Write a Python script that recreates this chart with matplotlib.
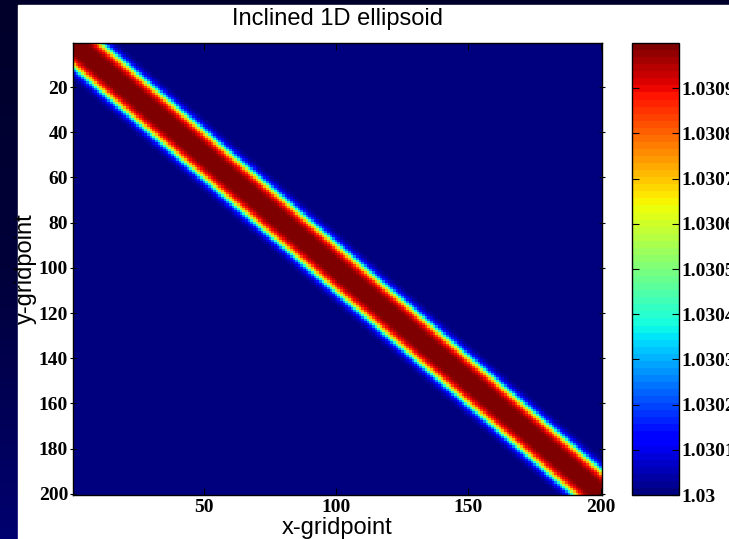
import matplotlib
matplotlib.use("Agg")
import matplotlib.pyplot as plt
import numpy as np

# grid and band parameters
nx, ny = 200, 200
base_value = 1.03
amplitude = 0.001
band_offset = 0.0        # centre line x - y = offset
band_halfwidth = 10.4    # |x - y| where the value is half way
band_edge = 3.0          # softness of the band edge

cbar_ticks = [1.03, 1.0301, 1.0302, 1.0303, 1.0304, 1.0305, 1.0306, 1.0307, 1.0308, 1.0309]
cbar_labels = ['1.03', '1.0301', '1.0302', '1.0303', '1.0304', '1.0305',
               '1.0306', '1.0307', '1.0308', '1.0309']
xticks = [50, 100, 150, 200]
yticks = [20, 40, 60, 80, 100, 120, 140, 160, 180, 200]

xg, yg = np.meshgrid(np.arange(1, nx + 1), np.arange(1, ny + 1))
d = np.abs(xg - yg - band_offset)
field = base_value + amplitude * 0.5 * (1 - np.tanh((d - band_halfwidth) / band_edge))

W, H = 729, 539
fig = plt.figure(figsize=(W / 100, H / 100), dpi=100)

# slide-like navy background with a white figure panel
bg = fig.add_axes([0, 0, 1, 1])
grad = np.linspace(0, 1, 256).reshape(-1, 1)
bg_cmap = matplotlib.colors.LinearSegmentedColormap.from_list(
    'navy', ['#000070', '#00003a', '#00002a'])
bg.imshow(grad, aspect='auto', cmap=bg_cmap, extent=(0, 1, 0, 1), origin='lower')
bg.add_patch(plt.Rectangle((18 / W, 0), 1, (H - 5) / H, color='white'))
bg.set_xlim(0, 1)
bg.set_ylim(0, 1)
bg.axis('off')

ax = fig.add_axes([73 / W, 44 / H, 529 / W, 452 / H])
cmap = plt.get_cmap('jet', 64)
im = ax.imshow(field, cmap=cmap, vmin=1.03, vmax=1.031, aspect='auto',
               interpolation='nearest', extent=(0.5, nx + 0.5, ny + 0.5, 0.5))

tick_font = dict(family='Liberation Serif', weight='bold', size=14)
ax.set_xticks(xticks)
ax.set_yticks(yticks)
ax.set_xticklabels([str(t) for t in xticks], **tick_font)
ax.set_yticklabels([str(t) for t in yticks], **tick_font)
ax.tick_params(axis='x', direction='in', length=5, top=True, pad=3)
ax.tick_params(axis='y', direction='inout', length=5, right=True, pad=1)
for s in ax.spines.values():
    s.set_linewidth(1.0)

lab_font = dict(family='Liberation Sans', size=17)
ax.set_title('Inclined 1D ellipsoid', pad=13, **lab_font)
ax.set_xlabel('x-gridpoint', va='center', **lab_font)
ax.set_ylabel('y-gridpoint', va='center', **lab_font)
ax.xaxis.set_label_coords(0.5, -0.072)
ax.yaxis.set_label_coords(-0.089, 0.5)

cax = fig.add_axes([632 / W, 44 / H, 47 / W, 452 / H])
cb = fig.colorbar(im, cax=cax)
cb.set_ticks(cbar_ticks)
cb.set_ticklabels(cbar_labels)
for t in cax.get_yticklabels():
    t.set_fontfamily('Liberation Serif')
    t.set_fontweight('bold')
    t.set_fontsize(14)
cax.tick_params(direction='in', length=5, left=True, pad=2)
cb.outline.set_linewidth(1.0)

fig.savefig('out.png', dpi=100)
